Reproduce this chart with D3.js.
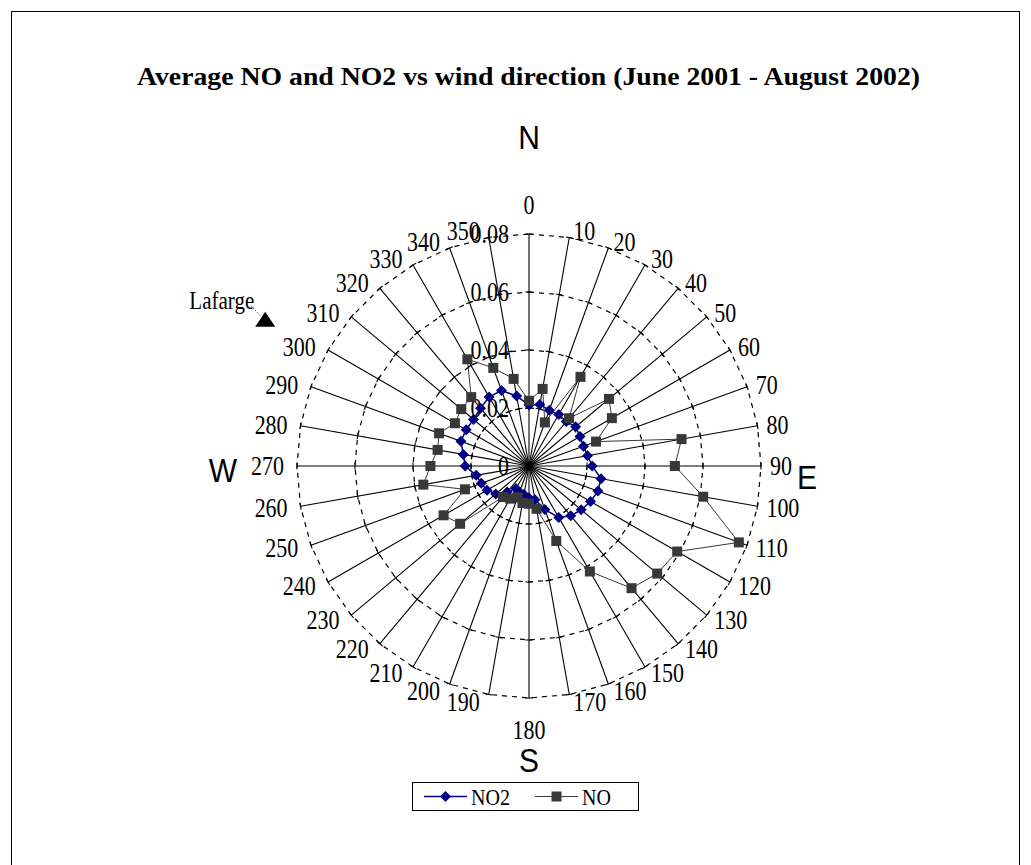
<!DOCTYPE html>
<html>
<head>
<meta charset="utf-8">
<script src="https://cdn.jsdelivr.net/npm/d3@7"></script>
<style>
body { margin: 0; background: #fff; }
text { font-family: "Liberation Serif", "Times New Roman", serif; fill: #000; }
.compass { font-family: "Liberation Sans", Arial, sans-serif; font-size: 30px; }
</style>
</head>
<body>
<svg id="chart" width="1031" height="865"></svg>
<script>
// wind direction (degrees) and average concentrations
const directions = [0, 10, 20, 30, 40, 50, 60, 70, 80, 90, 100, 110, 120, 130, 140, 150, 160, 170,
	180, 190, 200, 210, 220, 230, 240, 250, 260, 270, 280, 290, 300, 310, 320, 330, 340, 350];
const no2Values = [0.021, 0.0215, 0.0205, 0.0205, 0.020, 0.021, 0.0203, 0.020, 0.0205, 0.0218,
	0.0252, 0.0253, 0.0245, 0.0235, 0.0224, 0.0205, 0.016, 0.0118, 0.011, 0.010, 0.0095, 0.009,
	0.0117, 0.015, 0.0167, 0.0175, 0.0185, 0.022, 0.023, 0.025, 0.025, 0.025, 0.026, 0.0275, 0.0277, 0.0245];
const noValues = [0.0225, 0.027, 0.016, 0.0355, 0.0215, 0.036, 0.033, 0.0246, 0.0534, 0.0503,
	0.061, 0.077, 0.059, 0.0577, 0.055, 0.042, 0.0275, 0.015, 0.013, 0.013, 0.0115, 0.013,
	0.014, 0.031, 0.034, 0.0235, 0.037, 0.034, 0.032, 0.033, 0.0295, 0.0305, 0.031, 0.0425, 0.036, 0.0305];
const ringValues = [0, 0.02, 0.04, 0.06, 0.08];
const ringLabels = ["0", "0.02", "0.04", "0.06", "0.08"];
const compassPoints = [
	{label: "N", dx: 0, dy: -329},
	{label: "E", dx: 278, dy: 11},
	{label: "S", dx: 0, dy: 294},
	{label: "W", dx: -306, dy: 4}
];
const lafarge = {dir: 299, value: 0.104, label: "Lafarge"};
const TITLE = "Average NO and NO2 vs wind direction (June 2001 - August 2002)";

const WIDTH = 1031
	, HEIGHT = 865
	, CX = 529
	, CY = 466
	, RADIUS = 232
	, NO2_COLOR = "#000080"
	, NO_COLOR = "#383838";

var svg = d3.select('#chart');
var rScale = d3.scaleLinear().domain([0, 0.08]).range([0, RADIUS]);
var rad = function (d) { return d * Math.PI / 180; };
var px = function (deg, v) { return CX + rScale(v) * Math.sin(rad(deg)); };
var py = function (deg, v) { return CY - rScale(v) * Math.cos(rad(deg)); };

// outer frame
svg.append('rect')
	.attr('x', 11.5).attr('y', 11.5)
	.attr('width', 1008).attr('height', 880)
	.attr('fill', 'none').attr('stroke', '#000').attr('stroke-width', 1);

svg.append('text')
	.attr('x', 137).attr('y', 85)
	.attr('textLength', 783).attr('lengthAdjust', 'spacingAndGlyphs')
	.style('font-size', '26px').style('font-weight', 'bold')
	.text(TITLE);

var g = svg.append('g').attr('transform', 'translate(' + CX + ',' + CY + ')');

// dashed rings
ringValues.slice(1).forEach(function (v) {
	var ring = d3.lineRadial()
		.angle(function (d) { return rad(d); })
		.radius(rScale(v))
		.curve(d3.curveLinearClosed);
	g.append('path')
		.attr('d', ring(directions))
		.attr('fill', 'none')
		.attr('stroke', '#000')
		.attr('stroke-width', 1.2)
		.attr('stroke-dasharray', '5,5');
});

// spokes
svg.selectAll('.spoke').data(directions).enter().append('line')
	.attr('class', 'spoke')
	.attr('x1', CX).attr('y1', CY)
	.attr('x2', function (d) { return px(d, 0.08); })
	.attr('y2', function (d) { return py(d, 0.08); })
	.attr('stroke', '#000').attr('stroke-width', 1.1);

// tick marks across each spoke
var ticks = [];
directions.forEach(function (d) {
	ringValues.forEach(function (v) { ticks.push({dir: d, v: v}); });
});
svg.selectAll('.tick').data(ticks).enter().append('line')
	.attr('class', 'tick')
	.attr('x1', function (t) { return px(t.dir, t.v) - 3.5 * Math.cos(rad(t.dir)); })
	.attr('y1', function (t) { return py(t.dir, t.v) - 3.5 * Math.sin(rad(t.dir)); })
	.attr('x2', function (t) { return px(t.dir, t.v) + 3.5 * Math.cos(rad(t.dir)); })
	.attr('y2', function (t) { return py(t.dir, t.v) + 3.5 * Math.sin(rad(t.dir)); })
	.attr('stroke', '#000').attr('stroke-width', 1.1);

// value axis labels along the 0 spoke
svg.selectAll('.rlabel').data(ringValues).enter().append('text')
	.attr('class', 'rlabel')
	.attr('text-anchor', 'end')
	.attr('transform', function (v) { return 'translate(' + (CX - 20) + ',' + py(0, v) + ') scale(1,1.2)'; })
	.attr('dy', '0.35em')
	.style('font-size', '22px')
	.text(function (v, i) { return ringLabels[i]; });

// direction labels
var labelPos = function (deg) {
	var t = rad(deg), ex = px(deg, 0.08), ey = py(deg, 0.08);
	if (deg === 0) return {x: ex, y: ey - 29, a: 'middle'};
	if (deg === 180) return {x: ex, y: ey + 32, a: 'middle'};
	if (deg < 180) return {x: ex + 3 + 6 * Math.sin(t), y: ey - 7 * Math.cos(t), a: 'start'};
	return {x: ex - 8 + 5 * Math.sin(t), y: ey - 7 * Math.cos(t), a: 'end'};
};
svg.selectAll('.dlabel').data(directions).enter().append('text')
	.attr('class', 'dlabel')
	.attr('text-anchor', function (d) { return labelPos(d).a; })
	.attr('transform', function (d) { var p = labelPos(d); return 'translate(' + p.x + ',' + p.y + ') scale(1,1.2)'; })
	.attr('dy', '0.35em')
	.style('font-size', '22px')
	.text(function (d) { return d; });

// series
var seriesLine = function (values) {
	return d3.lineRadial()
		.angle(function (d) { return rad(d); })
		.radius(function (d, i) { return rScale(values[i]); })
		.curve(d3.curveLinearClosed)(directions);
};

g.append('path')
	.attr('d', seriesLine(no2Values))
	.attr('fill', 'none').attr('stroke', NO2_COLOR).attr('stroke-width', 1.5);
svg.selectAll('.no2').data(directions).enter().append('path')
	.attr('class', 'no2')
	.attr('d', 'M0,-5.5L5.5,0L0,5.5L-5.5,0Z')
	.attr('transform', function (d, i) { return 'translate(' + px(d, no2Values[i]) + ',' + py(d, no2Values[i]) + ')'; })
	.attr('fill', NO2_COLOR);

g.append('path')
	.attr('d', seriesLine(noValues))
	.attr('fill', 'none').attr('stroke', NO_COLOR).attr('stroke-width', 1);
svg.selectAll('.no').data(directions).enter().append('rect')
	.attr('class', 'no')
	.attr('x', function (d, i) { return px(d, noValues[i]) - 5; })
	.attr('y', function (d, i) { return py(d, noValues[i]) - 5; })
	.attr('width', 10).attr('height', 10)
	.attr('fill', NO_COLOR);

// compass letters
svg.selectAll('.compass').data(compassPoints).enter().append('text')
	.attr('class', 'compass')
	.attr('text-anchor', 'middle')
	.attr('transform', function (c) { return 'translate(' + (CX + c.dx) + ',' + (CY + c.dy) + ') scale(1,1.1)'; })
	.attr('dy', '0.35em')
	.text(function (c) { return c.label; });

// Lafarge marker
var lx = px(lafarge.dir, lafarge.value), ly = py(lafarge.dir, lafarge.value);
svg.append('path')
	.attr('d', 'M' + lx + ',' + (ly - 8) + 'L' + (lx + 10) + ',' + (ly + 7) + 'L' + (lx - 10) + ',' + (ly + 7) + 'Z')
	.attr('fill', '#000');
svg.append('line')
	.attr('x1', lx - 14).attr('y1', ly - 14).attr('x2', lx - 5).attr('y2', ly - 4)
	.attr('stroke', '#000').attr('stroke-dasharray', '1,2');
svg.append('text')
	.attr('text-anchor', 'end')
	.attr('transform', 'translate(' + (lx - 11) + ',' + (ly - 19) + ') scale(1,1.15)')
	.attr('dy', '0.35em')
	.style('font-size', '21px')
	.text(lafarge.label);

// legend
var legend = svg.append('g').attr('transform', 'translate(412,782)');
legend.append('rect')
	.attr('x', 0.5).attr('y', 0.5).attr('width', 226).attr('height', 28)
	.attr('fill', '#fff').attr('stroke', '#000');
var items = [
	{name: 'NO2', color: NO2_COLOR, x: 12, shape: 'diamond'},
	{name: 'NO', color: NO_COLOR, x: 123, shape: 'square'}
];
items.forEach(function (it) {
	legend.append('line')
		.attr('x1', it.x).attr('x2', it.x + 43).attr('y1', 14.5).attr('y2', 14.5)
		.attr('stroke', it.color).attr('stroke-width', it.shape === 'diamond' ? 1.5 : 1);
	if (it.shape === 'diamond') {
		legend.append('path').attr('d', 'M0,-5.5L5.5,0L0,5.5L-5.5,0Z')
			.attr('transform', 'translate(' + (it.x + 21.5) + ',14.5)').attr('fill', it.color);
	} else {
		legend.append('rect').attr('x', it.x + 16.5).attr('y', 9.5).attr('width', 10).attr('height', 10)
			.attr('fill', it.color);
	}
	legend.append('text')
		.attr('transform', 'translate(' + (it.x + 47) + ',14.5) scale(1,1.15)')
		.attr('dy', '0.35em')
		.style('font-size', '20px')
		.text(it.name);
});
</script>
</body>
</html>
